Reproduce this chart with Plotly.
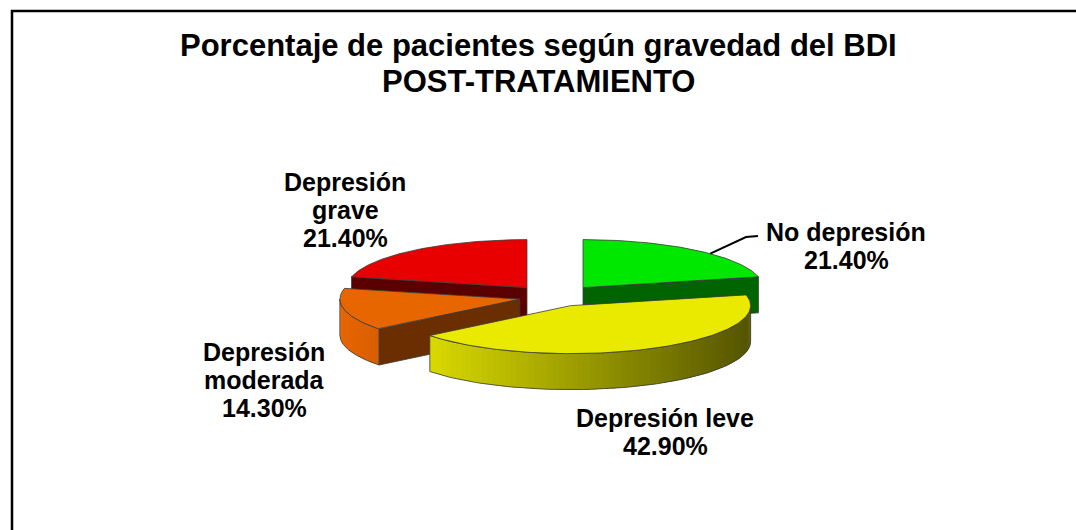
import numpy as np
import plotly.graph_objects as go

# ---------------- data ----------------
categories = ["No depresión", "Depresión leve", "Depresión moderada", "Depresión grave"]
values = [21.4, 42.9, 14.3, 21.4]
value_labels = ["21.40%", "42.90%", "14.30%", "21.40%"]
label_lines = [["No depresión"], ["Depresión leve"], ["Depresión", "moderada"], ["Depresión", "grave"]]
title_lines = ["Porcentaje de pacientes según gravedad del BDI", "POST-TRATAMIENTO"]

# ---------------- styling ----------------
top_colors = ["#00e800", "#eaea00", "#e86600", "#e80000"]
cut_colors = ["#006400", "#6a6a00", "#6b2e00", "#5a0000"]
pulls = [0.25, 0.2, 0.2, 0.25]
draw_order = [0, 3, 2, 1]
label_pos = [(846, 246), (665, 432), (264, 380), (345, 210)]
LINE_GAP = 28
EDGE = "#3a3a3a"
FONT = "Arial, Liberation Sans, sans-serif"

W, H = 1076, 530
CX, CY = 555, 297
A, B = 180, 48
DEPTH = 36

fracs = np.array(values) / sum(values)
ends = np.cumsum(fracs) * 360
starts = ends - fracs * 360


def ell(theta, ox, oy, z=0.0):
    t = np.radians(theta)
    return ox + A * np.sin(t), oy - B * np.cos(t) + z


def shade(hexc, f):
    h = hexc.lstrip("#")
    r, g, b = (int(h[i:i + 2], 16) for i in (0, 2, 4))
    return "rgb(%d,%d,%d)" % (min(255, r * f), min(255, g * f), min(255, b * f))


fig = go.Figure()


def poly(xs, ys, fill, lc=EDGE, lw=0.8):
    xs = list(xs) + [xs[0]]
    ys = list(ys) + [ys[0]]
    fig.add_trace(go.Scatter(x=xs, y=ys, mode="lines", fill="toself", fillcolor=fill,
                             line=dict(color=lc, width=lw), hoverinfo="skip", showlegend=False))


def line(xs, ys, lc=EDGE, lw=0.8):
    fig.add_trace(go.Scatter(x=list(xs), y=list(ys), mode="lines",
                             line=dict(color=lc, width=lw), hoverinfo="skip", showlegend=False))


offsets = {}
for i in draw_order:
    t1, t2 = starts[i], ends[i]
    mid = (t1 + t2) / 2
    p = pulls[i]
    ox = CX + p * A * np.sin(np.radians(mid))
    oy = CY - p * B * np.cos(np.radians(mid))
    offsets[i] = (ox, oy)

    # radial cut faces
    for th, vis in ((t1, np.sin(np.radians(t1)) < -1e-6), (t2, np.sin(np.radians(t2)) > 1e-6)):
        if vis:
            rx, ry = ell(th, ox, oy)
            poly([ox, rx, rx, ox], [oy, ry, ry + DEPTH, oy + DEPTH], cut_colors[i])

    # outer curved wall (shaded strips, slightly overlapping to hide seams)
    lo, hi = max(t1, 90), min(t2, 270)
    if hi > lo:
        n = max(2, int((hi - lo) / 2) + 1)
        ths = np.linspace(lo, hi, n + 1)
        step = ths[1] - ths[0]
        for k in range(n):
            a0 = ths[k]
            a1 = min(hi, ths[k + 1] + 0.6 * step)
            am = (ths[k] + ths[k + 1]) / 2
            f = 0.68 - 0.32 * np.sin(np.radians(am))
            col = shade(top_colors[i], f)
            sub = np.linspace(a0, a1, 4)
            sx, sy = ell(sub, ox, oy)
            poly(list(sx) + list(sx[::-1]), list(sy) + list(sy[::-1] + DEPTH), col, lc=col, lw=0)
        arc = np.linspace(lo, hi, 80)
        ax_, ay_ = ell(arc, ox, oy)
        line(list(ax_) + list(ax_[::-1]) + [ax_[0]],
             list(ay_) + list(ay_[::-1] + DEPTH) + [ay_[0]])

    # top face
    arc = np.linspace(t1, t2, 120)
    ax_, ay_ = ell(arc, ox, oy)
    poly([ox] + list(ax_), [oy] + list(ay_), top_colors[i])

# leader line for "No depresión"
gx, gy = ell(45, *offsets[0])
line([gx, 746, 758], [gy, 237, 236], lc="black", lw=2)

annotations = []
for j, t in enumerate(title_lines):
    annotations.append(dict(x=538, y=45 + 36 * j, text="<b>%s</b>" % t, showarrow=False,
                            xref="x", yref="y", xanchor="center", yanchor="middle",
                            font=dict(family=FONT, size=31, color="black")))
for i in range(len(categories)):
    lines = label_lines[i] + [value_labels[i]]
    cx, cy = label_pos[i]
    y0 = cy - LINE_GAP * (len(lines) - 1) / 2
    for k, t in enumerate(lines):
        annotations.append(dict(x=cx, y=y0 + LINE_GAP * k, text="<b>%s</b>" % t, showarrow=False,
                                xref="x", yref="y", xanchor="center", yanchor="middle",
                                font=dict(family=FONT, size=25, color="black")))

fig.update_layout(
    width=W, height=H, autosize=False,
    margin=dict(l=0, r=0, t=0, b=0),
    paper_bgcolor="white", plot_bgcolor="white",
    xaxis=dict(range=[0, W], visible=False, fixedrange=True),
    yaxis=dict(range=[H, 0], visible=False, fixedrange=True),
    annotations=annotations,
    shapes=[dict(type="rect", xref="x", yref="y", x0=12, y0=11, x1=1090, y1=560,
                 line=dict(color="black", width=2.5), fillcolor="rgba(0,0,0,0)", layer="below")],
    showlegend=False,
)

fig.write_html("out.html", config={"displayModeBar": False},
               post_script="document.body.style.margin='0px';document.body.style.overflow='hidden';")
